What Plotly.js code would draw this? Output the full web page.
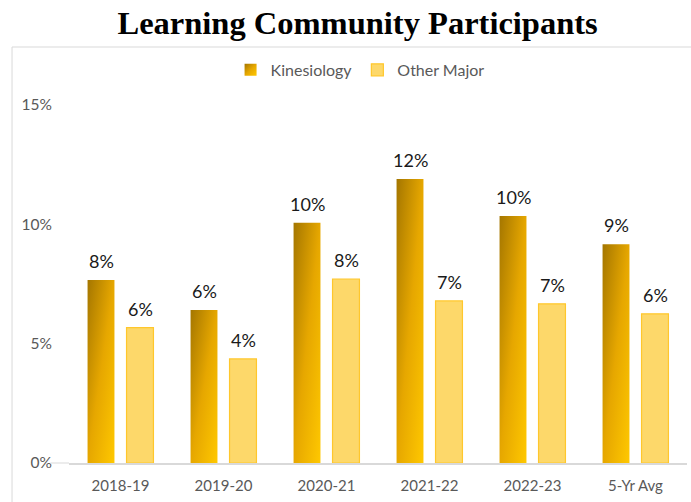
<!DOCTYPE html>
<html>
<head>
<meta charset="utf-8">
<script src="https://cdn.plot.ly/plotly-3.0.1.min.js"></script>
<style>
html,body{margin:0;padding:0;background:#fff;}
#chart{width:691px;height:502px;}
</style>
</head>
<body>
<div id="chart"></div>
<script>
const categories = ["2018-19", "2019-20", "2020-21", "2021-22", "2022-23", "5-Yr Avg"];
const kinesiology = [7.67, 6.41, 10.07, 11.9, 10.35, 9.17];
const otherMajor = [5.67, 4.36, 7.71, 6.79, 6.67, 6.25];
const yTickVals = [0, 5, 10, 15];
const yTickText = ["0%", "5%", "10%", "15%"];

const pct = v => Math.round(v) + "%";

const sans = "Lato, 'Open Sans', sans-serif";
const labelFont = {family: sans, size: 18, color: "#1a1a1a"};

const traces = [
  {
    type: "bar", name: "Kinesiology", x: categories, y: kinesiology,
    marker: {color: "#E0A300", line: {width: 0}},
    hoverinfo: "none"
  },
  {
    type: "bar", name: "Other Major", x: categories, y: otherMajor,
    marker: {color: "#FDD86A", line: {color: "#FFC72C", width: 1.2}},
    hoverinfo: "none"
  }
];

// data labels built from the series arrays
const annotations = [];
[[kinesiology, -19.5], [otherMajor, 19.5]].forEach(([vals, dx]) => {
  vals.forEach((v, i) => {
    annotations.push({
      x: categories[i], y: v, xref: "x", yref: "y",
      text: pct(v), showarrow: false, xanchor: "center", yanchor: "bottom",
      xshift: dx, yshift: 6, font: labelFont
    });
  });
});

const layout = {
  width: 691, height: 502,
  margin: {l: 69, r: 4, t: 105, b: 39},
  paper_bgcolor: "#ffffff", plot_bgcolor: "#ffffff",
  showlegend: true,
  title: {
    text: "<b>Learning Community Participants</b>",
    font: {family: "'Liberation Serif', 'Times New Roman', serif", size: 32.5, color: "#000"},
    x: 0.467, xref: "paper", xanchor: "center",
    y: 0.955, yref: "container", yanchor: "middle"
  },
  barmode: "group", bargap: 0.243, bargroupgap: 0.31,
  legend: {
    orientation: "h", x: 0.471, xanchor: "center", y: 1.098, yanchor: "middle",
    font: {family: sans, size: 16, color: "#595959"},
    itemwidth: 30, traceorder: "normal"
  },
  xaxis: {
    type: "category", showgrid: false, zeroline: false,
    showline: true, linecolor: "#D9D9D9", linewidth: 1.5,
    ticks: "", tickfont: {family: sans, size: 15, color: "#595959"},
    ticklabelstandoff: 8
  },
  yaxis: {
    range: [0, 15], tickvals: yTickVals, ticktext: yTickText,
    showgrid: false, zeroline: false, showline: false,
    ticks: "", tickfont: {family: sans, size: 15.5, color: "#595959"},
    ticklabelstandoff: 16
  },
  annotations: annotations,
  shapes: [
    {type: "rect", xref: "paper", yref: "paper",
     x0: -0.0922, x1: 1.2, y0: -0.3, y1: 1.162,
     line: {color: "#D9D9D9", width: 1}, fillcolor: "rgba(0,0,0,0)", layer: "below"},
    {type: "line", xref: "paper", yref: "paper",
     x0: -0.03, x1: 0, y0: 0, y1: 0,
     line: {color: "#D9D9D9", width: 1}}
  ]
};

function applyGradient() {
  const gd = document.getElementById("chart");
  const svg = gd.querySelector("svg.main-svg");
  if (!svg) return;
  const NS = "http://www.w3.org/2000/svg";
  let defs = svg.querySelector("defs");
  if (!defs) { defs = document.createElementNS(NS, "defs"); svg.insertBefore(defs, svg.firstChild); }
  if (!document.getElementById("kinGrad")) {
    const g = document.createElementNS(NS, "linearGradient");
    g.setAttribute("id", "kinGrad");
    g.setAttribute("x1", "0"); g.setAttribute("y1", "0");
    g.setAttribute("x2", "1"); g.setAttribute("y2", "1");
    [["0", "#A47600"], ["0.5", "#E6A700"], ["1", "#FFC800"]].forEach(([o, c]) => {
      const s = document.createElementNS(NS, "stop");
      s.setAttribute("offset", o); s.setAttribute("stop-color", c);
      g.appendChild(s);
    });
    defs.appendChild(g);
  }
  const barTraces = gd.querySelectorAll(".barlayer .trace.bars");
  if (barTraces[0]) {
    barTraces[0].querySelectorAll("path").forEach(p => { p.style.fill = "url(#kinGrad)"; });
  }
  const legendItems = gd.querySelectorAll(".legend .traces");
  if (legendItems[0]) {
    legendItems[0].querySelectorAll(".legendpoints path").forEach(p => { p.style.fill = "url(#kinGrad)"; });
  }
}

Plotly.newPlot("chart", traces, layout, {staticPlot: true, displayModeBar: false}).then(applyGradient);
</script>
</body>
</html>
